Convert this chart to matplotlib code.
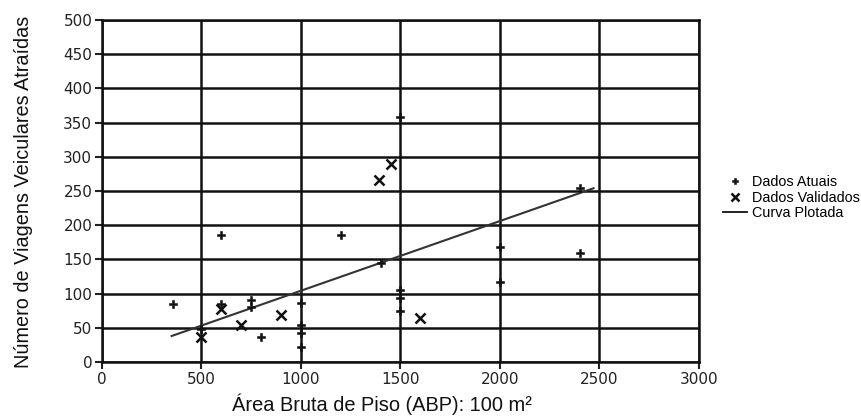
import matplotlib
matplotlib.use("Agg")
import matplotlib.pyplot as plt
from matplotlib.lines import Line2D

# Data
atuais_x = [355, 500, 600, 600, 750, 750, 800, 1000, 1000, 1000, 1000, 1200, 1400, 1500, 1500, 1500, 1500, 2000, 2000, 2400, 2400]
atuais_y = [85, 48, 185, 85, 90, 80, 37, 86, 54, 42, 22, 186, 145, 358, 105, 93, 74, 168, 117, 160, 255]

validados_x = [500, 600, 700, 900, 1390, 1450, 1600]
validados_y = [37, 77, 54, 69, 266, 290, 65]

curva_x = [350, 2470]
curva_y = [38, 254]

x_ticks = [0, 500, 1000, 1500, 2000, 2500, 3000]
y_ticks = [0, 50, 100, 150, 200, 250, 300, 350, 400, 450, 500]

labels = ["Dados Atuais", "Dados Validados", "Curva Plotada"]
xlabel = "Área Bruta de Piso (ABP): 100 m²"
ylabel = "Número de Viagens Veiculares Atraídas"

W, H = 862, 416
fig = plt.figure(figsize=(W / 100, H / 100), dpi=100)
ax = fig.add_axes([102 / W, 54 / H, (699 - 102) / W, (362 - 20) / H])

ax.set_xlim(0, 3000)
ax.set_ylim(0, 500)
ax.set_xticks(x_ticks)
ax.set_yticks(y_ticks)
ax.set_xticklabels([str(v) for v in x_ticks], fontsize=11, family="DejaVu Sans", color="#222")
ax.set_yticklabels([str(v) for v in y_ticks], fontsize=11, family="DejaVu Sans", color="#222")
ax.tick_params(axis="both", direction="out", length=5, width=1.5, color="#222", pad=2)

ax.grid(True, color="#111", linewidth=1.8)
ax.set_axisbelow(True)
for s in ax.spines.values():
    s.set_linewidth(1.8)
    s.set_color("#111")

ax.plot(curva_x, curva_y, color="#333", linewidth=1.5, zorder=3)
ax.plot(atuais_x, atuais_y, linestyle="none", marker="P", markersize=5.5,
        color="#111", markeredgewidth=0.4, zorder=4)
ax.plot(validados_x, validados_y, linestyle="none", marker="x", markersize=6.5,
        markeredgewidth=1.8, color="#111", zorder=4)

tx = fig.text(382 / W, 1 - 404 / H, xlabel, ha="center", va="center",
              fontsize=12, family="Liberation Sans", color="#111")
ty = fig.text(24 / W, 1 - 192 / H, ylabel, ha="center", va="center",
              rotation=90, fontsize=12, family="Liberation Sans", color="#111")
tl = fig.text(0, 0, labels[1], fontsize=10, family="Liberation Sans")

fig.canvas.draw()
r = fig.canvas.get_renderer()
tx.set_fontsize(12 * 301 / tx.get_window_extent(r).width)
ty.set_fontsize(12 * 352 / ty.get_window_extent(r).height)
leg_fs = 10 * 108 / tl.get_window_extent(r).width
tl.remove()

handles = [
    Line2D([], [], linestyle="none", marker="P", markersize=5, color="#111", markeredgewidth=0.4),
    Line2D([], [], linestyle="none", marker="x", markersize=5.5, markeredgewidth=1.8, color="#111"),
    Line2D([], [], color="#111", linewidth=1.3),
]
fig.legend(handles, labels, loc="upper left", bbox_to_anchor=(723 / W, 1 - 175 / H),
           frameon=False, prop={"family": "Liberation Sans", "size": leg_fs},
           handlelength=24 / (leg_fs * 100 / 72), handletextpad=5 / (leg_fs * 100 / 72),
           labelspacing=0.12, borderpad=0, borderaxespad=0)

fig.savefig("out.png", dpi=100, facecolor="white")
